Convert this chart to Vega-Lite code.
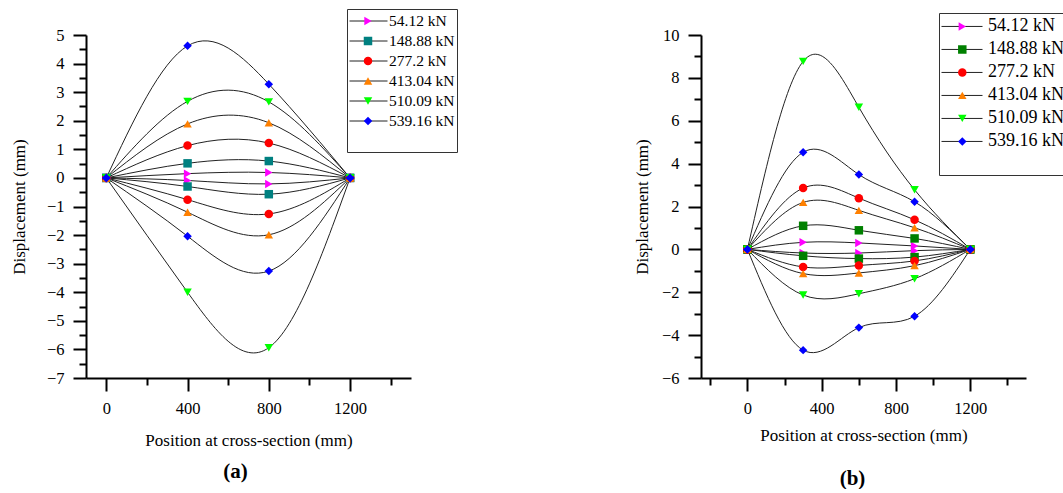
{
  "$schema": "https://vega.github.io/schema/vega-lite/v6.json",
  "padding": {"left": 10, "top": 8, "right": 0, "bottom": 0},
  "background": "white",
  "datasets": {
    "a": [
      {"x": 0, "y": 0, "load": 54.12, "side": "u"}, {"x": 400, "y": 0.15, "load": 54.12, "side": "u"}, {"x": 800, "y": 0.19, "load": 54.12, "side": "u"}, {"x": 1200, "y": 0, "load": 54.12, "side": "u"},
      {"x": 0, "y": 0, "load": 54.12, "side": "d"}, {"x": 400, "y": -0.09, "load": 54.12, "side": "d"}, {"x": 800, "y": -0.21, "load": 54.12, "side": "d"}, {"x": 1200, "y": 0, "load": 54.12, "side": "d"},
      {"x": 0, "y": 0, "load": 148.88, "side": "u"}, {"x": 400, "y": 0.51, "load": 148.88, "side": "u"}, {"x": 800, "y": 0.59, "load": 148.88, "side": "u"}, {"x": 1200, "y": 0, "load": 148.88, "side": "u"},
      {"x": 0, "y": 0, "load": 148.88, "side": "d"}, {"x": 400, "y": -0.30, "load": 148.88, "side": "d"}, {"x": 800, "y": -0.57, "load": 148.88, "side": "d"}, {"x": 1200, "y": 0, "load": 148.88, "side": "d"},
      {"x": 0, "y": 0, "load": 277.2, "side": "u"}, {"x": 400, "y": 1.13, "load": 277.2, "side": "u"}, {"x": 800, "y": 1.22, "load": 277.2, "side": "u"}, {"x": 1200, "y": 0, "load": 277.2, "side": "u"},
      {"x": 0, "y": 0, "load": 277.2, "side": "d"}, {"x": 400, "y": -0.76, "load": 277.2, "side": "d"}, {"x": 800, "y": -1.26, "load": 277.2, "side": "d"}, {"x": 1200, "y": 0, "load": 277.2, "side": "d"},
      {"x": 0, "y": 0, "load": 413.04, "side": "u"}, {"x": 400, "y": 1.89, "load": 413.04, "side": "u"}, {"x": 800, "y": 1.93, "load": 413.04, "side": "u"}, {"x": 1200, "y": 0, "load": 413.04, "side": "u"},
      {"x": 0, "y": 0, "load": 413.04, "side": "d"}, {"x": 400, "y": -1.20, "load": 413.04, "side": "d"}, {"x": 800, "y": -1.99, "load": 413.04, "side": "d"}, {"x": 1200, "y": 0, "load": 413.04, "side": "d"},
      {"x": 0, "y": 0, "load": 510.09, "side": "u"}, {"x": 400, "y": 2.68, "load": 510.09, "side": "u"}, {"x": 800, "y": 2.66, "load": 510.09, "side": "u"}, {"x": 1200, "y": 0, "load": 510.09, "side": "u"},
      {"x": 0, "y": 0, "load": 510.09, "side": "d"}, {"x": 400, "y": -4.0, "load": 510.09, "side": "d"}, {"x": 800, "y": -5.94, "load": 510.09, "side": "d"}, {"x": 1200, "y": 0, "load": 510.09, "side": "d"},
      {"x": 0, "y": 0, "load": 539.16, "side": "u"}, {"x": 400, "y": 4.62, "load": 539.16, "side": "u"}, {"x": 800, "y": 3.28, "load": 539.16, "side": "u"}, {"x": 1200, "y": 0, "load": 539.16, "side": "u"},
      {"x": 0, "y": 0, "load": 539.16, "side": "d"}, {"x": 400, "y": -2.04, "load": 539.16, "side": "d"}, {"x": 800, "y": -3.26, "load": 539.16, "side": "d"}, {"x": 1200, "y": 0, "load": 539.16, "side": "d"}
    ],
    "b": [
      {"x": 0, "y": 0, "load": 54.12, "side": "u"}, {"x": 300, "y": 0.33, "load": 54.12, "side": "u"}, {"x": 600, "y": 0.30, "load": 54.12, "side": "u"}, {"x": 900, "y": 0.16, "load": 54.12, "side": "u"}, {"x": 1200, "y": 0, "load": 54.12, "side": "u"},
      {"x": 0, "y": 0, "load": 54.12, "side": "d"}, {"x": 300, "y": -0.17, "load": 54.12, "side": "d"}, {"x": 600, "y": -0.17, "load": 54.12, "side": "d"}, {"x": 900, "y": -0.06, "load": 54.12, "side": "d"}, {"x": 1200, "y": 0, "load": 54.12, "side": "d"},
      {"x": 0, "y": 0, "load": 148.88, "side": "u"}, {"x": 300, "y": 1.10, "load": 148.88, "side": "u"}, {"x": 600, "y": 0.89, "load": 148.88, "side": "u"}, {"x": 900, "y": 0.51, "load": 148.88, "side": "u"}, {"x": 1200, "y": 0, "load": 148.88, "side": "u"},
      {"x": 0, "y": 0, "load": 148.88, "side": "d"}, {"x": 300, "y": -0.30, "load": 148.88, "side": "d"}, {"x": 600, "y": -0.43, "load": 148.88, "side": "d"}, {"x": 900, "y": -0.36, "load": 148.88, "side": "d"}, {"x": 1200, "y": 0, "load": 148.88, "side": "d"},
      {"x": 0, "y": 0, "load": 277.2, "side": "u"}, {"x": 300, "y": 2.86, "load": 277.2, "side": "u"}, {"x": 600, "y": 2.39, "load": 277.2, "side": "u"}, {"x": 900, "y": 1.38, "load": 277.2, "side": "u"}, {"x": 1200, "y": 0, "load": 277.2, "side": "u"},
      {"x": 0, "y": 0, "load": 277.2, "side": "d"}, {"x": 300, "y": -0.82, "load": 277.2, "side": "d"}, {"x": 600, "y": -0.75, "load": 277.2, "side": "d"}, {"x": 900, "y": -0.54, "load": 277.2, "side": "d"}, {"x": 1200, "y": 0, "load": 277.2, "side": "d"},
      {"x": 0, "y": 0, "load": 413.04, "side": "u"}, {"x": 300, "y": 2.19, "load": 413.04, "side": "u"}, {"x": 600, "y": 1.82, "load": 413.04, "side": "u"}, {"x": 900, "y": 1.01, "load": 413.04, "side": "u"}, {"x": 1200, "y": 0, "load": 413.04, "side": "u"},
      {"x": 0, "y": 0, "load": 413.04, "side": "d"}, {"x": 300, "y": -1.13, "load": 413.04, "side": "d"}, {"x": 600, "y": -1.10, "load": 413.04, "side": "d"}, {"x": 900, "y": -0.76, "load": 413.04, "side": "d"}, {"x": 1200, "y": 0, "load": 413.04, "side": "d"},
      {"x": 0, "y": 0, "load": 510.09, "side": "u"}, {"x": 300, "y": 8.77, "load": 510.09, "side": "u"}, {"x": 600, "y": 6.63, "load": 510.09, "side": "u"}, {"x": 900, "y": 2.78, "load": 510.09, "side": "u"}, {"x": 1200, "y": 0, "load": 510.09, "side": "u"},
      {"x": 0, "y": 0, "load": 510.09, "side": "d"}, {"x": 300, "y": -2.13, "load": 510.09, "side": "d"}, {"x": 600, "y": -2.07, "load": 510.09, "side": "d"}, {"x": 900, "y": -1.37, "load": 510.09, "side": "d"}, {"x": 1200, "y": 0, "load": 510.09, "side": "d"},
      {"x": 0, "y": 0, "load": 539.16, "side": "u"}, {"x": 300, "y": 4.53, "load": 539.16, "side": "u"}, {"x": 600, "y": 3.49, "load": 539.16, "side": "u"}, {"x": 900, "y": 2.22, "load": 539.16, "side": "u"}, {"x": 1200, "y": 0, "load": 539.16, "side": "u"},
      {"x": 0, "y": 0, "load": 539.16, "side": "d"}, {"x": 300, "y": -4.70, "load": 539.16, "side": "d"}, {"x": 600, "y": -3.65, "load": 539.16, "side": "d"}, {"x": 900, "y": -3.12, "load": 539.16, "side": "d"}, {"x": 1200, "y": 0, "load": 539.16, "side": "d"}
    ]
  },
  "spacing": 290,
  "bounds": "flush",
  "resolve": {"scale": {"fill": "independent", "shape": "independent", "stroke": "independent"}},
  "hconcat": [
    {
      "width": 325,
      "height": 343,
      "data": {"name": "a"},
      "title": {"text": "(a)", "orient": "bottom", "fontSize": 21, "fontWeight": "bold", "font": "Liberation Serif", "color": "#000", "dx": -13, "offset": 12},
      "layer": [
        {
          "mark": {"type": "line", "interpolate": "natural", "strokeWidth": 1},
          "encoding": {
            "x": {"field": "x", "type": "quantitative", "scale": {"domain": [-100, 1500], "nice": false, "zero": false},
              "axis": {"orient": "bottom", "values": [0, 400, 800, 1200], "format": "d", "tickSize": 13, "labelPadding": 9,
                "labelFont": "Liberation Serif", "labelFontSize": 16.5, "labelColor": "#000",
                "title": "Position at cross-section (mm)", "titleFont": "Liberation Serif", "titleFontSize": 17, "titleFontWeight": "normal", "titleColor": "#000", "titlePadding": 16}},
            "y": {"field": "y", "type": "quantitative", "scale": {"domain": [-7, 5], "nice": false, "zero": false},
              "axis": {"orient": "left", "values": [-7, -6, -5, -4, -3, -2, -1, 0, 1, 2, 3, 4, 5], "tickSize": 13, "labelPadding": 9,
                "labelFont": "Liberation Serif", "labelFontSize": 16.5, "labelColor": "#000",
                "title": "Displacement (mm)", "titleFont": "Liberation Serif", "titleFontSize": 17, "titleFontWeight": "normal", "titleColor": "#000", "titlePadding": 17.5}},
            "stroke": {"field": "load", "type": "nominal",
              "scale": {"domain": [54.12, 148.88, 277.2, 413.04, 510.09, 539.16], "range": ["#222", "#222", "#222", "#222", "#222", "#222"]},
              "legend": {"orient": "none", "legendX": 261, "legendY": -26, "title": " ", "titleOrient": "bottom", "titleFontSize": 14, "titlePadding": 5,
                "padding": 2, "rowPadding": 0, "clipHeight": 20, "strokeColor": "#333", "fillColor": "white",
                "symbolType": "stroke", "symbolSize": 1444, "symbolStrokeWidth": 1,
                "labelFont": "Liberation Serif", "labelFontSize": 15.5, "labelColor": "#000", "labelOffset": 1, "labelExpr": "datum.label + ' kN'", "zindex": 0}},
            "detail": {"field": "side"}
          }
        },
        {
          "mark": {"type": "point", "filled": true, "size": 72, "opacity": 1, "strokeWidth": 0},
          "encoding": {
            "x": {"field": "x", "type": "quantitative",
              "axis": {"orient": "bottom", "values": [200, 600, 1000, 1400], "tickSize": 7, "labels": false, "domain": false, "title": null}},
            "y": {"field": "y", "type": "quantitative",
              "axis": {"orient": "left", "values": [-6.5, -5.5, -4.5, -3.5, -2.5, -1.5, -0.5, 0.5, 1.5, 2.5, 3.5, 4.5], "tickSize": 7, "labels": false, "domain": false, "title": null}},
            "fill": {"field": "load", "type": "nominal",
              "scale": {"range": ["#FF00FF", "#008080", "#FF0000", "#FF8000", "#00FF00", "#0000FF"]},
              "legend": {"orient": "none", "legendX": 272.25, "legendY": -26, "title": null, "padding": 2, "rowPadding": 0, "clipHeight": 20,
                "symbolSize": 72, "symbolStrokeWidth": 0, "labelFontSize": 15.5, "labelExpr": "''", "zindex": 1}},
            "shape": {"field": "load", "type": "nominal",
              "scale": {"range": ["triangle-right", "square", "circle", "triangle-up", "triangle-down", "diamond"]},
              "legend": {"orient": "none", "legendX": 272.25, "legendY": -26, "title": null, "padding": 2, "rowPadding": 0, "clipHeight": 20,
                "symbolSize": 72, "symbolStrokeWidth": 0, "labelFontSize": 15.5, "labelExpr": "''", "zindex": 1}}
          }
        }
      ],
      "resolve": {"axis": {"x": "independent", "y": "independent"}}
    },
    {
      "width": 325,
      "height": 343,
      "data": {"name": "b"},
      "title": {"text": "(b)", "orient": "bottom", "fontSize": 21, "fontWeight": "bold", "font": "Liberation Serif", "color": "#000", "dx": -11, "offset": 24},
      "layer": [
        {
          "mark": {"type": "line", "interpolate": "natural", "strokeWidth": 1},
          "encoding": {
            "x": {"field": "x", "type": "quantitative", "scale": {"domain": [-250, 1500], "nice": false, "zero": false},
              "axis": {"orient": "bottom", "values": [0, 400, 800, 1200], "format": "d", "tickSize": 13, "labelPadding": 9,
                "labelFont": "Liberation Serif", "labelFontSize": 16.5, "labelColor": "#000",
                "title": "Position at cross-section (mm)", "titleFont": "Liberation Serif", "titleFontSize": 17, "titleFontWeight": "normal", "titleColor": "#000", "titlePadding": 11}},
            "y": {"field": "y", "type": "quantitative", "scale": {"domain": [-6, 10], "nice": false, "zero": false},
              "axis": {"orient": "left", "values": [-6, -4, -2, 0, 2, 4, 6, 8, 10], "tickSize": 13, "labelPadding": 9,
                "labelFont": "Liberation Serif", "labelFontSize": 16.5, "labelColor": "#000",
                "title": "Displacement (mm)", "titleFont": "Liberation Serif", "titleFontSize": 17, "titleFontWeight": "normal", "titleColor": "#000", "titlePadding": 9.5}},
            "stroke": {"field": "load", "type": "nominal",
              "scale": {"domain": [54.12, 148.88, 277.2, 413.04, 510.09, 539.16], "range": ["#222", "#222", "#222", "#222", "#222", "#222"]},
              "legend": {"orient": "none", "legendX": 238, "legendY": -22, "title": " ", "titleOrient": "bottom", "titleFontSize": 15, "titlePadding": 5,
                "padding": 2, "rowPadding": 0, "clipHeight": 22.9, "strokeColor": "#333", "fillColor": "white",
                "symbolType": "stroke", "symbolSize": 1681, "symbolStrokeWidth": 1,
                "labelFont": "Liberation Serif", "labelFontSize": 18, "labelColor": "#000", "labelOffset": 5, "labelExpr": "datum.label + ' kN'", "zindex": 0}},
            "detail": {"field": "side"}
          }
        },
        {
          "mark": {"type": "point", "filled": true, "size": 72, "opacity": 1, "strokeWidth": 0},
          "encoding": {
            "x": {"field": "x", "type": "quantitative",
              "axis": {"orient": "bottom", "values": [-200, 200, 600, 1000, 1400], "tickSize": 7, "labels": false, "domain": false, "title": null}},
            "y": {"field": "y", "type": "quantitative",
              "axis": {"orient": "left", "values": [-5, -3, -1, 1, 3, 5, 7, 9], "tickSize": 7, "labels": false, "domain": false, "title": null}},
            "fill": {"field": "load", "type": "nominal",
              "scale": {"range": ["#FF00FF", "#008000", "#FF0000", "#FF8000", "#00FF00", "#0000FF"]},
              "legend": {"orient": "none", "legendX": 250.3, "legendY": -22, "title": null, "padding": 2, "rowPadding": 0, "clipHeight": 22.9,
                "symbolSize": 72, "symbolStrokeWidth": 0, "labelFontSize": 18, "labelExpr": "''", "zindex": 1}},
            "shape": {"field": "load", "type": "nominal",
              "scale": {"range": ["triangle-right", "square", "circle", "triangle-up", "triangle-down", "diamond"]},
              "legend": {"orient": "none", "legendX": 250.3, "legendY": -22, "title": null, "padding": 2, "rowPadding": 0, "clipHeight": 22.9,
                "symbolSize": 72, "symbolStrokeWidth": 0, "labelFontSize": 18, "labelExpr": "''", "zindex": 1}}
          }
        }
      ],
      "resolve": {"axis": {"x": "independent", "y": "independent"}}
    }
  ],
  "config": {
    "font": "Liberation Serif",
    "view": {"stroke": null},
    "axis": {
      "grid": false,
      "domainColor": "#000", "domainWidth": 2,
      "tickColor": "#000", "tickWidth": 2,
      "labelFont": "Liberation Serif", "labelFontSize": 16.5, "labelColor": "#000",
      "titleFont": "Liberation Serif", "titleFontSize": 17, "titleFontWeight": "normal", "titleColor": "#000",
      "labelFlush": false, "labelOverlap": false
    }
  }
}
